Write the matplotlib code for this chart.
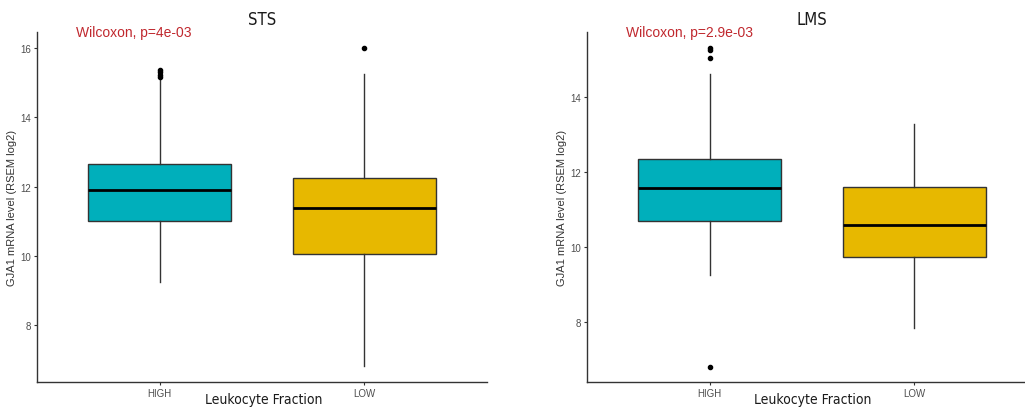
import matplotlib
matplotlib.use('Agg')
import matplotlib.pyplot as plt

# データ（図から読み取った箱ひげ図の統計量）
groups = ['HIGH', 'LOW']
colors = ['#00AFBB', '#E7B800']

sts_q1 = [11.02, 10.05]
sts_med = [11.90, 11.40]
sts_q3 = [12.66, 12.26]
sts_whislo = [9.25, 6.83]
sts_whishi = [15.08, 15.25]
sts_fliers = [[15.15, 15.22, 15.30, 15.37], [16.01]]

lms_q1 = [10.69, 9.72]
lms_med = [11.58, 10.59]
lms_q3 = [12.34, 11.61]
lms_whislo = [9.25, 7.85]
lms_whishi = [14.61, 13.28]
lms_fliers = [[6.81, 15.05, 15.25, 15.31], []]

panels = [
    ('STS', 'Wilcoxon, p=4e-03', sts_q1, sts_med, sts_q3, sts_whislo, sts_whishi, sts_fliers,
     [8, 10, 12, 14, 16], (6.37, 16.46)),
    ('LMS', 'Wilcoxon, p=2.9e-03', lms_q1, lms_med, lms_q3, lms_whislo, lms_whishi, lms_fliers,
     [8, 10, 12, 14], (6.40, 15.73)),
]

narrow = ['DejaVu Sans']
plt.rcParams['font.family'] = ['Liberation Sans', 'DejaVu Sans']

W, H = 1025, 410
fig = plt.figure(figsize=(W / 100, H / 100), dpi=100)

# 軸の位置（ピクセル）と x軸ラベルの中心
ax_boxes = [(37, 33, 487, 383), (587, 33, 1037, 383)]
xlabel_x = [264, 813]

for (title, ptext, q1, med, q3, wlo, whi, fl, yticks, ylim), (x0, y0, x1, y1), xc in zip(
        panels, ax_boxes, xlabel_x):
    ax = fig.add_axes([x0 / W, 1 - y1 / H, (x1 - x0) / W, (y1 - y0) / H])
    stats = []
    for i in range(len(groups)):
        stats.append(dict(q1=q1[i], med=med[i], q3=q3[i], whislo=wlo[i], whishi=whi[i],
                          fliers=fl[i], label=groups[i]))
    bp = ax.bxp(stats, positions=[1, 2], widths=0.7, patch_artist=True, showcaps=False,
                boxprops=dict(edgecolor='#333333', linewidth=1.0),
                whiskerprops=dict(color='#333333', linewidth=1.0),
                medianprops=dict(color='black', linewidth=2.0),
                flierprops=dict(marker='o', markerfacecolor='black', markeredgecolor='black',
                                markersize=3))
    for patch, c in zip(bp['boxes'], colors):
        patch.set_facecolor(c)
    ax.set_xlim(0.4, 2.6)
    ax.set_ylim(*ylim)
    ax.set_yticks(yticks)
    ax.set_xticks([1, 2])
    ax.set_xticklabels(groups)
    for s in ['top', 'right']:
        ax.spines[s].set_visible(False)
    for s in ['left', 'bottom']:
        ax.spines[s].set_color('#333333')
        ax.spines[s].set_linewidth(1.0)
    ax.tick_params(axis='both', labelsize=7, colors='#333333', labelcolor='#4d4d4d',
                   length=2.5, width=0.8, pad=2)
    ax.set_title(title, fontsize=12, family=narrow, fontstretch='condensed',
                 color='#1a1a1a', pad=6)
    # x軸ラベル（目盛ラベルと同じ高さ付近に配置）
    fig.text(xc / W, 1 - 400 / H, 'Leukocyte Fraction', fontsize=10, family=narrow,
             fontstretch='condensed', color='#1a1a1a', ha='center', va='center')
    ax.set_ylabel('GJA1 mRNA level (RSEM log2)', fontsize=8, color='#333333', labelpad=2)
    ax.text(0.087, 1.0, ptext, transform=ax.transAxes, fontsize=10, color='#C0282E',
            ha='left', va='center')

fig.savefig('out.png', dpi=100)
plt.close()
